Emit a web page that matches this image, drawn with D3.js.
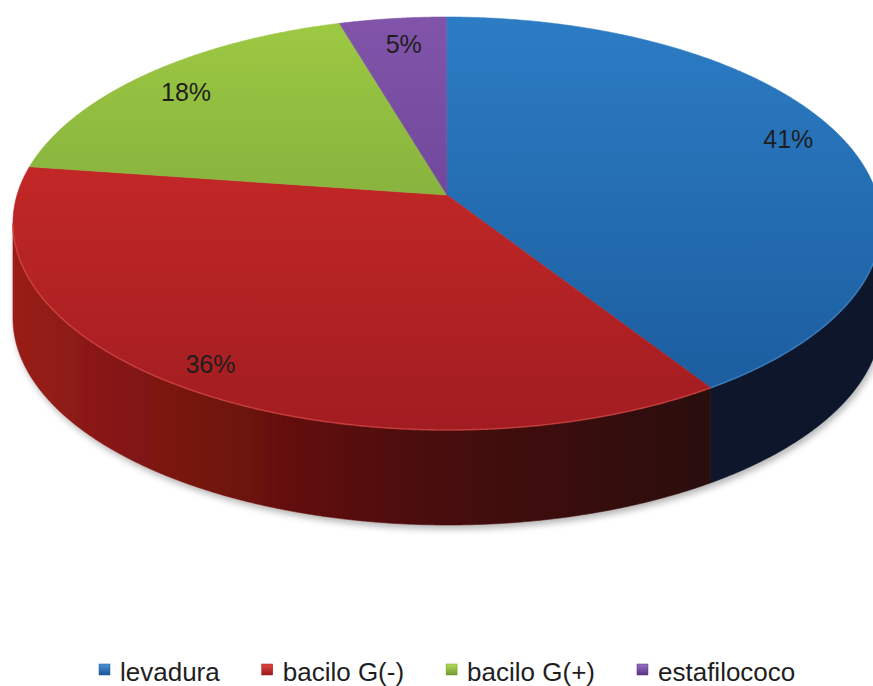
<!DOCTYPE html>
<html>
<head>
<meta charset="utf-8">
<script src="https://cdn.jsdelivr.net/npm/d3@7"></script>
<style>
  body { margin: 0; background: #fff; }
  svg { display: block; }
  text { font-family: "Liberation Sans", Arial, sans-serif; }
</style>
</head>
<body>
<svg id="chart" width="873" height="686"></svg>
<script>
// Microorganisms isolated (counts per group)
const categories = ["levadura", "bacilo G(-)", "bacilo G(+)", "estafilococo"];
const counts = [9, 8, 4, 1];

// Top-face gradient (upper, lower), wall gradient stops, rim highlight
const topColors = [["#2c7cc4", "#1a5a9b"], ["#d42e29", "#a11c21"], ["#9dc942", "#6b963a"], ["#8154aa", "#5a3886"]];
const wallStops = [
  [[0, "#0c1d34"], [1, "#07142a"]],
  [[0, "#9a1d19"], [0.22, "#74130f"], [0.5, "#470d0c"], [0.8, "#2b0a0a"], [1, "#240809"]],
  [[0, "#5d7f2c"], [1, "#3a5219"]],
  [[0, "#4a2c6e"], [1, "#2e1b48"]]
];
const rimColors = ["#4a95d8", "#e2504a", "#b6d86a", "#9a72c0"];
const legendColors = [["#4c93d6", "#1b5596"], ["#e0443e", "#9a1a1d"], ["#b5dc5a", "#6f9a30"], ["#9a70c4", "#563383"]];

const W = 873, H = 686;
const svg = d3.select("#chart");
const defs = svg.append("defs");

// Perspective projection of the unit disc onto the page
const cx = 441, k = 0.138, ax = 430, ex = 6, A = 195, B = -175.65, depth = 95;
function proj(phi, r = 1) {
  const X = r * Math.sin(phi), Z = r * Math.cos(phi);
  const w = 1 + k * Z;
  return [cx + (ax * X + ex) / w, (A + B * Z) / w];
}

const total = d3.sum(counts);
const pct = d3.format(".0%");
const pie = d3.pie().sort(null).value(d => d).startAngle(0).endAngle(2 * Math.PI);
const arcs = pie(counts);

// Gradients
arcs.forEach((a, i) => {
  const g = defs.append("linearGradient").attr("id", "top" + i)
    .attr("gradientUnits", "userSpaceOnUse").attr("x1", 0).attr("y1", 18).attr("x2", 0).attr("y2", 432);
  g.append("stop").attr("offset", 0).attr("stop-color", topColors[i][0]);
  g.append("stop").attr("offset", 1).attr("stop-color", topColors[i][1]);
  const s = defs.append("linearGradient").attr("id", "wall" + i)
    .attr("gradientUnits", "userSpaceOnUse").attr("x1", 12).attr("y1", 0).attr("x2", 873).attr("y2", 0);
  wallStops[i].forEach(([o, c]) => s.append("stop").attr("offset", o).attr("stop-color", c));
  const lg = defs.append("linearGradient").attr("id", "leg" + i).attr("x1", 0).attr("y1", 0).attr("x2", 0).attr("y2", 1);
  lg.append("stop").attr("offset", 0).attr("stop-color", legendColors[i][0]);
  lg.append("stop").attr("offset", 1).attr("stop-color", legendColors[i][1]);
});

const shadow = defs.append("filter").attr("id", "shadow")
  .attr("x", "-5%").attr("y", "-5%").attr("width", "110%").attr("height", "120%");
shadow.append("feDropShadow").attr("dx", 2).attr("dy", 4).attr("stdDeviation", 3)
  .attr("flood-color", "#000").attr("flood-opacity", 0.28);

const line = d3.line();
const step = Math.PI / 720;
function arcPoints(a0, a1, r = 1) {
  const n = Math.max(2, Math.ceil((a1 - a0) / step));
  return d3.range(n + 1).map(j => proj(a0 + (a1 - a0) * j / n, r));
}

// Front part of the rim that shows its outer wall
const visFrom = Math.acos(-k), visTo = 2 * Math.PI - Math.acos(-k);

const wallG = svg.append("g").attr("filter", "url(#shadow)");
const rimParts = [];
arcs.forEach((a, i) => {
  const a0 = Math.max(a.startAngle, visFrom), a1 = Math.min(a.endAngle, visTo);
  if (a1 <= a0) return;
  const topPts = arcPoints(a0, a1);
  const botPts = topPts.map(([x, y]) => [x, y + depth]).reverse();
  wallG.append("path")
    .attr("d", line(topPts.concat(botPts)) + "Z")
    .attr("fill", `url(#wall${i})`)
    .attr("stroke", `url(#wall${i})`).attr("stroke-width", 0.6);
  rimParts.push({ i, pts: topPts });
});

// Top faces
const topG = svg.append("g");
arcs.forEach((a, i) => {
  const pts = [proj(0, 0)].concat(arcPoints(a.startAngle, a.endAngle));
  topG.append("path")
    .attr("d", line(pts) + "Z")
    .attr("fill", `url(#top${i})`)
    .attr("stroke", `url(#top${i})`).attr("stroke-width", 0.6);
});

// Soft bevel along the front rim
rimParts.forEach(({ i, pts }) => {
  topG.append("path").attr("d", line(pts)).attr("fill", "none")
    .attr("stroke", rimColors[i]).attr("stroke-width", 1.6).attr("stroke-opacity", 0.55);
});

// Percentage labels
const labelNudge = [[2, -9], [-18, 8], [-4, 2], [4, 2]];
arcs.forEach((a, i) => {
  const mid = (a.startAngle + a.endAngle) / 2;
  const [x, y] = proj(mid, 0.85);
  svg.append("text")
    .attr("x", x + labelNudge[i][0]).attr("y", y + labelNudge[i][1])
    .attr("text-anchor", "middle").attr("dominant-baseline", "central")
    .attr("font-size", 25).attr("fill", "#1e1e1e")
    .text(pct(a.data / total));
});

// Legend
const legend = svg.append("g");
let lx = 99;
categories.forEach((c, i) => {
  legend.append("rect").attr("x", lx).attr("y", 664).attr("width", 11).attr("height", 11)
    .attr("fill", `url(#leg${i})`).attr("stroke", legendColors[i][1]).attr("stroke-width", 0.5);
  const t = legend.append("text").attr("x", lx + 21).attr("y", 681)
    .attr("font-size", 26).attr("fill", "#1e1e1e").text(c);
  lx += 21 + t.node().getComputedTextLength() + 42;
});
</script>
</body>
</html>
